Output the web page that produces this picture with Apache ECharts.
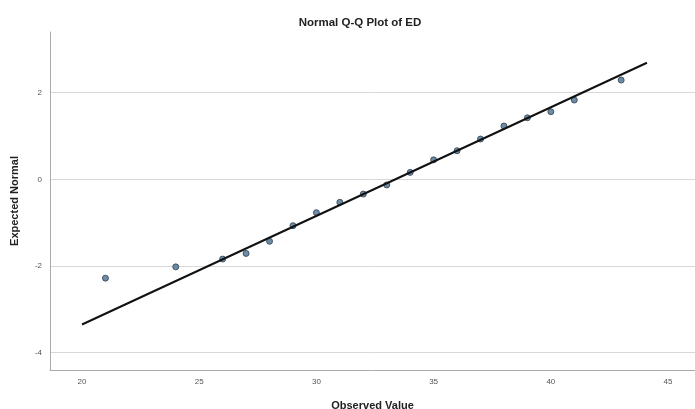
<!DOCTYPE html>
<html><head><meta charset="utf-8">
<script src="https://cdn.jsdelivr.net/npm/echarts@6/dist/echarts.min.js"></script>
<style>html,body{margin:0;padding:0;background:#fff}#c{width:695px;height:409px}</style>
</head><body><div id="c"></div>
<script>
const observed = [21, 24, 26, 27, 28, 29, 30, 31, 32, 33, 34, 35, 36, 37, 38, 39, 40, 41, 43];
const expected = [-2.28, -2.02, -1.84, -1.71, -1.43, -1.07, -0.77, -0.53, -0.34, -0.13, 0.16, 0.45, 0.66, 0.93, 1.23, 1.42, 1.56, 1.83, 2.29];
const refLineX = [20, 44.1];
const refLineY = [-3.35, 2.69];
const xTicks = [20, 25, 30, 35, 40, 45];
const yTicks = [-4, -2, 0, 2];

const chart = echarts.init(document.getElementById('c'));
const pts = observed.map((x, i) => [x, expected[i]]);
const line = refLineX.map((x, i) => [x, refLineY[i]]);
const labelFont = {color: '#555', fontSize: 8, fontFamily: 'Liberation Sans'};
const nameFont = {fontSize: 11, fontWeight: 'bold', color: '#222', fontFamily: 'Liberation Sans'};
chart.setOption({
  animation: false,
  title: {text: 'Normal Q-Q Plot of ED', left: 355, top: 12, textAlign: 'center',
    textStyle: {fontSize: 11.5, fontWeight: 'bold', color: '#222', fontFamily: 'Liberation Sans'}},
  grid: {left: 50, right: 0, top: 32, bottom: 39, containLabel: false, outerBoundsMode: 'none'},
  xAxis: {type: 'value', min: 18.635, max: 46.15,
    name: 'Observed Value', nameLocation: 'middle', nameGap: 30,
    nameTextStyle: nameFont,
    axisLine: {onZero: false, lineStyle: {color: '#aaa'}},
    axisTick: {show: false, customValues: xTicks},
    splitLine: {show: false},
    axisLabel: Object.assign({margin: 8, customValues: xTicks}, labelFont)
  },
  yAxis: {type: 'value', min: -4.4, max: 3.4,
    name: 'Expected Normal', nameLocation: 'middle', nameGap: 30,
    nameTextStyle: nameFont,
    axisLine: {show: true, onZero: false, lineStyle: {color: '#aaa'}},
    axisTick: {show: false, customValues: yTicks},
    splitLine: {show: true, lineStyle: {color: '#d8d8d8'}},
    axisLabel: Object.assign({margin: 8, customValues: yTicks}, labelFont)
  },
  series: [
    {type: 'line', data: line, symbol: 'none', lineStyle: {color: '#111', width: 2}, z: 3},
    {type: 'scatter', data: pts, symbolSize: 6,
      itemStyle: {color: '#4a6f90', borderColor: '#2c3e50', borderWidth: 1}, z: 2}
  ]
});
</script></body></html>
